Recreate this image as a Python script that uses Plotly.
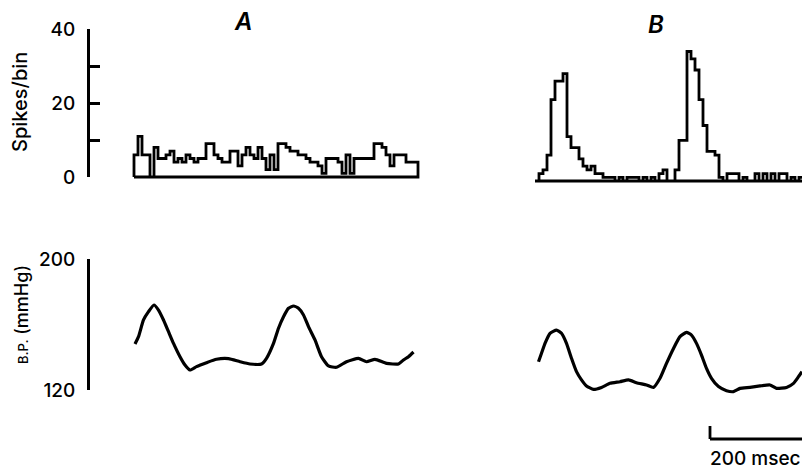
import numpy as np
import plotly.graph_objects as go

# ---------------- data ----------------
BIN_MS = 8  # histogram bin width (ms)

# Panel A: spikes per bin
spikes_A = [6, 11, 6, 6, 0, 8, 5, 5, 6, 7, 4, 5, 4, 6, 5, 4, 5, 5, 9, 9,
            6, 5, 4, 4, 7, 7, 3, 6, 8, 6, 5, 8, 5, 2, 6, 2, 9, 9, 8, 7,
            7, 6, 6, 5, 4, 4, 3, 1, 5, 5, 5, 4, 1, 6, 1, 5, 5, 5, 5, 5,
            9, 9, 8, 6, 3, 6, 6, 6, 4, 4, 4]

# Panel B: spikes per bin
spikes_B = [0, 2, 3, 7, 22, 27, 27, 29, 12, 9, 9,
            6, 4, 3, 4, 2, 2, 1, 1, 1, 0,
            1, 0, 1, 1, 1, 0, 1, 0, 1, 0,
            2, 3, 0, 0, 3, 11, 11, 35, 33, 30,
            22, 15, 8, 8, 7, 1, 0, 2, 2, 2,
            0, 1, 0, 0, 2, 0, 2, 0, 2, 0,
            2, 2, 0, 1, 0, 1, 1]

# Panel A: blood pressure trace
bp_A_t = [2, 9, 19, 29, 40, 49, 59, 69, 79, 92, 102, 112, 125, 145, 165, 189,
          212, 232, 255, 265, 279, 289, 299, 309, 319, 329, 339, 349, 362, 375,
          389, 405, 425, 449, 465, 482, 505, 529, 539, 549, 559]
bp_A_mmHg = [148.3, 152.8, 163.1, 168.2, 172.3, 169.2, 163.1, 155.9, 148.7, 140.5,
             135.4, 132.3, 134.4, 136.8, 138.9, 139.3, 137.4, 136.0, 136.0, 139.5,
             148.7, 158.0, 165.1, 170.3, 171.7, 170.3, 166.2, 159.0, 150.8, 140.5,
             134.8, 134.0, 137.4, 139.5, 137.4, 138.9, 136.4, 136.0, 138.5, 140.5,
             143.4]

# Panel B: blood pressure trace
bp_B_t = [7, 13, 20, 30, 43, 53, 63, 73, 83, 93, 103, 117, 133, 150, 170, 187,
          203, 223, 237, 250, 263, 277, 290, 303, 313, 323, 333, 343, 353, 367,
          383, 397, 410, 430, 450, 470, 483, 503, 517, 527, 534]
bp_B_mmHg = [137.4, 142.6, 148.7, 154.9, 156.9, 154.9, 148.7, 139.5, 131.3, 126.2,
             122.5, 120.4, 121.6, 124.1, 125.1, 126.2, 124.5, 123.1, 121.6, 127.2,
             136.4, 145.6, 152.8, 155.5, 153.8, 148.7, 141.5, 133.3, 127.2, 122.1,
             119.6, 119.0, 121.0, 121.6, 122.5, 123.1, 121.0, 121.6, 124.1, 128.2,
             131.3]

spike_ticks = [0, 10, 20, 30, 40]
spike_tick_labels = ["0", "", "20", "", "40"]
bp_ticks = [120, 200]
bp_tick_labels = ["120", "200"]
scalebar_ms = 200
scalebar_label = "200 msec"

# ---------------- layout geometry (pixels) ----------------
W, H = 802, 472
PX_PER_MS = 0.5
A_X0 = 134          # pixel x of time 0 in panel A
B_X0 = 535          # pixel x of time 0 in panel B
SPK_PX = 3.7        # px per spike
A_SPK0 = 177        # pixel y of 0 spikes (A)
B_SPK0 = 181        # pixel y of 0 spikes (B)
BP_PX = 1.625       # px per mmHg
BP120 = 390         # pixel y of 120 mmHg
AXIS_X = 88
FONT = "Inter"
WEIGHT = 500


def xrange_for(x0):
    return [-x0 / PX_PER_MS, (W - x0) / PX_PER_MS]


def yrange_for(y0_px, px_per_unit, v0=0.0):
    return [v0 - (H - y0_px) / px_per_unit, v0 + y0_px / px_per_unit]


def step_xy(counts, bin_w):
    counts = np.asarray(counts, dtype=float)
    edges = np.arange(len(counts) + 1) * bin_w
    x = np.repeat(edges, 2)
    y = np.concatenate([[0.0], np.repeat(counts, 2), [0.0]])
    x = np.append(x, edges[0])
    y = np.append(y, 0.0)
    return x, y


fig = go.Figure()
line_style = dict(color="black", width=2.8)
bp_style = dict(color="black", width=3.2, shape="spline", smoothing=0.5)

xa, ya = step_xy(spikes_A, BIN_MS)
fig.add_trace(go.Scatter(x=xa, y=ya, mode="lines", line=line_style,
                         xaxis="x", yaxis="y", hoverinfo="skip"))
xb, yb = step_xy(spikes_B, BIN_MS)
fig.add_trace(go.Scatter(x=xb, y=yb, mode="lines", line=line_style,
                         xaxis="x2", yaxis="y2", hoverinfo="skip"))
fig.add_trace(go.Scatter(x=bp_A_t, y=bp_A_mmHg, mode="lines", line=bp_style,
                         xaxis="x", yaxis="y3", hoverinfo="skip"))
fig.add_trace(go.Scatter(x=bp_B_t, y=bp_B_mmHg, mode="lines", line=bp_style,
                         xaxis="x2", yaxis="y3", hoverinfo="skip"))
# dummy traces so the scale axes are drawn
fig.add_trace(go.Scatter(x=[None], y=[None], xaxis="x3", yaxis="y4", hoverinfo="skip"))
fig.add_trace(go.Scatter(x=[None], y=[None], xaxis="x3", yaxis="y5", hoverinfo="skip"))

# scale bar (panel B time axis)
SB_T0 = (710 - B_X0) / PX_PER_MS
fig.add_shape(type="line", xref="x2", yref="paper", x0=SB_T0, x1=SB_T0,
              y0=1 - 426 / H, y1=1 - 439 / H, line=dict(color="black", width=2.8))
fig.add_shape(type="line", xref="x2", yref="paper", x0=SB_T0, x1=SB_T0 + scalebar_ms,
              y0=1 - 439 / H, y1=1 - 439 / H, line=dict(color="black", width=2.8))

hidden = dict(visible=False, domain=[0, 1], fixedrange=True, automargin=False)
scale_axis = dict(anchor="free", position=AXIS_X / W, showline=True, linecolor="black",
                  linewidth=2.8, ticks="inside", ticklen=10, tickwidth=2.8,
                  tickcolor="black", showgrid=False, zeroline=False, automargin=False,
                  tickfont=dict(family=FONT, size=19, color="black", weight=WEIGHT),
                  ticklabelstandoff=8, fixedrange=True)

fig.update_layout(
    template="none",
    width=W, height=H, autosize=False, margin=dict(l=0, r=0, t=0, b=0, pad=0),
    paper_bgcolor="white", plot_bgcolor="rgba(0,0,0,0)", showlegend=False,
    xaxis=dict(hidden, range=xrange_for(A_X0)),
    xaxis2=dict(hidden, range=xrange_for(B_X0), overlaying="x"),
    xaxis3=dict(hidden, range=[0, 1], domain=[AXIS_X / W, AXIS_X / W + 0.01]),
    yaxis=dict(hidden, range=yrange_for(A_SPK0, SPK_PX)),
    yaxis2=dict(hidden, range=yrange_for(B_SPK0, SPK_PX), overlaying="y"),
    yaxis3=dict(hidden, range=yrange_for(BP120, BP_PX, 120), overlaying="y"),
    yaxis4=dict(scale_axis, range=[0, 40], domain=[1 - A_SPK0 / H, 1 - 29 / H],
                tickvals=spike_ticks, ticktext=spike_tick_labels),
    yaxis5=dict(scale_axis, range=[120, 200], domain=[1 - BP120 / H, 1 - 259 / H],
                tickvals=bp_ticks, ticktext=bp_tick_labels),
)

ann_font = dict(family=FONT, color="black", weight=WEIGHT)
centered = dict(xref="paper", yref="paper", showarrow=False,
                xanchor="center", yanchor="middle")
fig.add_annotation(centered, text="Spikes/bin", textangle=-90,
                   x=20 / W, y=1 - 102 / H, font=dict(ann_font, size=20))
fig.add_annotation(centered, text="<span style='font-size:13px'>B.P.</span> (mmHg)",
                   textangle=-90, x=21 / W, y=1 - 315 / H,
                   font=dict(ann_font, size=18))
fig.add_annotation(centered, text="A", x=243 / W, y=1 - 22 / H,
                   font=dict(ann_font, size=24, style="italic", weight=600))
fig.add_annotation(centered, text="B", x=656 / W, y=1 - 25 / H,
                   font=dict(ann_font, size=24, style="italic", weight=600))
fig.add_annotation(text=scalebar_label, xref="x2", yref="paper", x=SB_T0 - 4,
                   y=1 - 458 / H, xanchor="left", yanchor="middle", showarrow=False,
                   font=dict(ann_font, size=19))

fig.write_html("out.html", config={"displayModeBar": False},
               post_script="document.body.style.margin='0px';")
